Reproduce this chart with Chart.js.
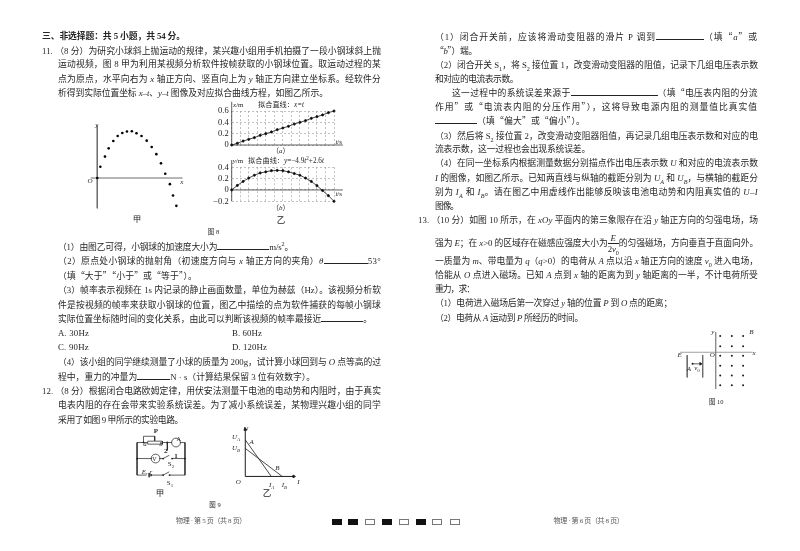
<!DOCTYPE html>
<html>
<head>
<meta charset="utf-8">
<script src="https://cdn.jsdelivr.net/npm/chart.js@4"></script>
<style>
html, body { margin: 0; background: #fff; }
#page { position: relative; width: 800px; height: 551px; overflow: hidden; filter: blur(0.4px); color: #262626;
  font-family: "Liberation Serif", "Noto Sans CJK SC", serif; }
.ln { position: absolute; height: 12px; line-height: 12px; font-size: 8.8px; white-space: nowrap; }
.lb { position: absolute; transform: translate(-50%, -50%); white-space: nowrap; font-size: 7px; line-height: 1; }
.q { font-family: "Noto Sans CJK SC"; }
.blank { display: inline-block; height: 8px; border-bottom: 0.8px solid #222; }
.frac { display: inline-block; vertical-align: middle; text-align: center; line-height: 10px; }
.frac span { display: block; }
.frac span + span { border-top: 0.8px solid #222; }
sub, sup { font-size: 70%; line-height: 0; }
canvas { position: absolute; }
.box { position: absolute; top: 518.5px; width: 8px; height: 4px; border: 0.6px solid #777; }
.box.on { background: #111; border-color: #111; }
</style>
</head>
<body>
<div id="page">
  <canvas id="ball" style="left:84px;top:118px" width="110" height="98"></canvas>
  <canvas id="xt" style="left:205px;top:95px" width="145" height="60"></canvas>
  <canvas id="yt" style="left:205px;top:155px" width="145" height="55"></canvas>
  <canvas id="circuit" style="left:130px;top:429px" width="64" height="55"></canvas>
  <canvas id="ui" style="left:231px;top:420px" width="75" height="70"></canvas>
  <canvas id="field" style="left:673px;top:325px" width="87" height="71"></canvas>
</div>
<script>
// fig 8 left: ball positions (image units)
const ballX = [0, 3.3, 8.3, 12.3, 17.3, 22, 27, 32, 37.3, 42.3, 47.7, 53.3, 58.7, 63.7, 68.7, 73.3, 78.3, 81.7, 85.3];
const ballY = [0, 12.3, 23.3, 32.3, 40.3, 45.7, 49, 50.7, 51, 48.7, 45.7, 40.7, 33.7, 26, 16, 4.7, -6.7, -19, -30.3];

// fig 8 right: fitted x-t and y-t
const times = [0, 0.033, 0.067, 0.1, 0.133, 0.167, 0.2, 0.233, 0.267, 0.3, 0.333, 0.367, 0.4, 0.433, 0.467, 0.5, 0.533, 0.567, 0.6];
const xMetres = [0, 0.03, 0.07, 0.1, 0.13, 0.17, 0.2, 0.23, 0.27, 0.3, 0.33, 0.37, 0.4, 0.43, 0.47, 0.5, 0.53, 0.57, 0.6];
const yMetres = [0, 0.08, 0.15, 0.21, 0.26, 0.3, 0.32, 0.34, 0.345, 0.34, 0.32, 0.29, 0.26, 0.21, 0.15, 0.075, -0.01, -0.1, -0.2];
const timeGrid = [0, 0.05, 0.1, 0.15, 0.2, 0.25, 0.3, 0.35, 0.4, 0.45, 0.5, 0.55, 0.6];
const xtTicks = [0, 0.2, 0.4, 0.6];
const ytTicks = [-0.2, 0, 0.2, 0.4];

// fig 9 right: U-I lines
const lineA = [[0, 42.7], [30, 0]];
const lineB = [[0, 32.7], [42.6, 0]];

// fig 9 left: circuit wires
const wires = [
  [[135, 118], [97, 118], [97, 238], [131, 238]],
  [[135, 113], [187, 113], [187, 124], [135, 124], [135, 113]],
  [[187, 118], [222, 118]],
  [[250, 118], [268, 118], [268, 238], [213, 238]],
  [[120, 118], [120, 95], [160, 95], [160, 112]],
  [[205, 118], [205, 147]],
  [[97, 177], [150, 177]],
  [[176, 177], [190, 177], [212, 165]],
  [[222, 177], [268, 177]],
  [[147, 238], [190, 238], [212, 226]],
  [[140, 230], [140, 246]],
  [[147, 234], [147, 242]]
];
const meters = [[236, 118], [163, 177]];
const junctions = [[97, 177], [268, 177], [205, 118], [120, 118], [190, 238], [213, 238], [190, 177], [222, 177]];

// fig 10: field
const fieldDots = [];
[243, 282, 320].forEach(c => [52, 87, 120, 155, 188, 222].forEach(r => fieldDots.push([c, r])));
const fieldLines = [[[132, 118], [132, 195]], [[184, 118], [184, 195]]];
const yAxis10 = [[228, 38], [228, 235]];
const xAxis10 = [[108, 108], [352, 108]];
const chargeA = [[150, 148], [177, 148]];

const pts = arr => arr.map(p => ({ x: p[0], y: p[1] }));
const INK = '#1c1c1c', AXIS = '#6e6e6e';

function polyline(arr, color, width) {
  return { data: pts(arr), showLine: true, borderColor: color || INK, borderWidth: width || 0.7, pointRadius: 0, clip: false };
}
function axisLine(arr, rotation, width) {
  // arrow tip on the last point
  return { data: pts(arr), showLine: true, borderColor: INK, backgroundColor: INK, borderWidth: width || 0.7,
    pointRadius: [0, 1.6], pointStyle: 'triangle', rotation: rotation, clip: false };
}
function dots(arr, r, color) {
  return { data: pts(arr), backgroundColor: color || INK, borderWidth: 0, pointRadius: r, clip: false };
}

// chart with no visible axes, the canvas is the plot area
function bareChart(id, xMin, xMax, yMin, yMax, reverse, datasets) {
  return new Chart(document.getElementById(id), {
    type: 'scatter',
    data: { datasets: datasets },
    options: {
      responsive: false, animation: false,
      plugins: { legend: { display: false }, tooltip: { enabled: false } },
      scales: {
        x: { display: false, type: 'linear', min: xMin, max: xMax },
        y: { display: false, type: 'linear', min: yMin, max: yMax, reverse: reverse }
      }
    }
  });
}

// gridded plot with dashed grid and real y ticks
function gridChart(id, yValues, yMin, yMax, yTicks, top, bottom, xEnd, yEnd) {
  const series = times.map((t, i) => ({ x: t, y: yValues[i] }));
  return new Chart(document.getElementById(id), {
    type: 'scatter',
    data: { datasets: [
      { data: series, showLine: true, borderColor: INK, borderWidth: 0.8, backgroundColor: '#000', pointRadius: 1.1, clip: false },
      axisLine([[0, 0], [xEnd, 0]], 90),
      axisLine([[0, yMin], [0, yEnd]], 0)
    ] },
    options: {
      responsive: false, animation: false,
      layout: { padding: { top: top, right: 16, left: 0, bottom: 0 } },
      plugins: { legend: { display: false }, tooltip: { enabled: false } },
      scales: {
        x: {
          type: 'linear', min: 0, max: 0.6,
          afterBuildTicks: s => { s.ticks = timeGrid.map(v => ({ value: v })); },
          afterFit: s => { s.height = bottom; },
          ticks: { display: false, autoSkip: false },
          grid: { color: '#999', lineWidth: 0.6, drawTicks: false },
          border: { display: false, dash: [2, 2] }
        },
        y: {
          type: 'linear', min: yMin, max: yMax,
          afterBuildTicks: s => { s.ticks = yTicks.map(v => ({ value: v })); },
          afterFit: s => { s.width = 26.7; },
          ticks: {
            color: '#222', padding: 3, autoSkip: false,
            font: { family: 'Liberation Serif', size: 8.5 },
            callback: v => (v < 0 ? '\u2212' + Math.abs(v).toFixed(1) : (v === 0 ? '0' : v.toFixed(1)))
          },
          grid: { color: '#999', lineWidth: 0.6, drawTicks: false },
          border: { display: false, dash: [2, 2] }
        }
      }
    }
  });
}

bareChart('ball', -10, 100, -37, 61, false, [
  dots(ballX.map((x, i) => [x, ballY[i]]), 1.3, '#000'),
  polyline([[-7, 0], [92, 0]], AXIS, 1),
  polyline([[0, 57], [0, -33]], AXIS, 1)
]);

gridChart('xt', xMetres, 0, 0.6, xtTicks, 16, 10, 0.652, 0.764);
gridChart('yt', yMetres, -0.2, 0.4, ytTicks, 12.3, 8.7, 0.652, 0.53);

bareChart('circuit', 90, 282, 87, 252, true,
  wires.map(w => polyline(w))
    .concat([dots(junctions, 0.9)])
    .concat([{ data: pts(meters), backgroundColor: '#fff', borderColor: INK, borderWidth: 0.7, pointRadius: 4.4, clip: false }])
);

// canvas origin sits at (241.7, 480) of the page
bareChart('ui', -10.7, 64.3, -10, 60, false, [
  polyline(lineA, INK, 0.8),
  polyline(lineB, INK, 0.8),
  axisLine([[0, 0], [56, 0]], 90, 1),
  axisLine([[0, 0], [0, 55]], 0, 1)
]);

bareChart('field', 100, 361, 30, 243, true, [
  dots(fieldDots, 1),
  polyline(fieldLines[0], AXIS, 1),
  polyline(fieldLines[1], AXIS, 1),
  axisLine(chargeA, 90),
  dots([chargeA[0]], 1),
  polyline(yAxis10, AXIS, 1.1),
  polyline(xAxis10, '#888', 0.8)
]);

// page text
const blank = w => `<span class="blank" style="width:${w}px"></span>`;
const textLines = [
  [42, 36, 143, '<b>三、非选择题：共 5 小题，共 54 分。</b>'],
  [42, 51, 339, '11. （8 分）为研究小球斜上抛运动的规律，某兴趣小组用手机拍摄了一段小钢球斜上抛'],
  [58, 64, 323, '运动视频，图 8 甲为利用某视频分析软件按帧获取的小钢球位置。取运动过程的某'],
  [58, 79, 323, '点为原点，水平向右为 <i>x</i> 轴正方向、竖直向上为 <i>y</i> 轴正方向建立坐标系。经软件分'],
  [58, 93, 270, '析得到实际位置坐标 <i>x</i>–<i>t</i>、<i>y</i>–<i>t</i> 图像及对应拟合曲线方程，如图乙所示。'],
  [58, 247, 235, `（1）由图乙可得，小钢球的加速度大小为${blank(52)}m/s<sup>2</sup>。`],
  [58, 261, 323, `（2）原点处小钢球的抛射角（初速度方向与 <i>x</i> 轴正方向的夹角）<i>θ</i>${blank(44)}53°`],
  [58, 276, 139, '（填“大于”“小于”或“等于”）。'],
  [58, 290, 323, '（3）帧率表示视频在 1s 内记录的静止画面数量，单位为赫兹（Hz）。该视频分析软'],
  [58, 305, 323, '件是按视频的帧率来获取小钢球的位置，图乙中描绘的点为软件捕获的每帧小钢球'],
  [58, 319, 314, `实际位置坐标随时间的变化关系，由此可以判断该视频的帧率最接近${blank(42)}。`],
  [58, 333, 31, 'A. 30Hz'],
  [232, 333, 30, 'B. 60Hz'],
  [58, 347, 31, 'C. 90Hz'],
  [232, 347, 35, 'D. 120Hz'],
  [58, 362, 323, '（4）该小组的同学继续测量了小球的质量为 200g，试计算小球回到与 <i>O</i> 点等高的过'],
  [58, 377, 257, `程中，重力的冲量为${blank(33)}N · s（计算结果保留 3 位有效数字）。`],
  [42, 391, 339, '12. （8 分）根据闭合电路欧姆定律，用伏安法测量干电池的电动势和内阻时，由于真实'],
  [58, 405, 323, '电表内阻的存在会带来实验系统误差。为了减小系统误差，某物理兴趣小组的同学'],
  [58, 420, 125, '采用了如图 9 甲所示的实验电路。'],
  [435, 37, 323, `（1）闭合开关前，应该将滑动变阻器的滑片 P 调到${blank(48)}（填“<i>a</i>”或`],
  [435, 51, 42, '“<i>b</i>”）端。'],
  [435, 65, 323, '（2）闭合开关 S<sub>1</sub>，将 S<sub>2</sub> 接位置 1，改变滑动变阻器的阻值，记录下几组电压表示数'],
  [435, 79, 83, '和对应的电流表示数。'],
  [452, 93, 306, `这一过程中的系统误差来源于${blank(87)}（填“电压表内阻的分流`],
  [435, 107, 323, '作用”或“电流表内阻的分压作用”），这将导致电源内阻的测量值比真实值'],
  [435, 121, 150, `${blank(42)}（填“偏大”或“偏小”）。`],
  [435, 136, 323, '（3）然后将 S<sub>2</sub> 接位置 2，改变滑动变阻器阻值，再记录几组电压表示数和对应的电'],
  [435, 149, 155, '流表示数，这一过程也会出现系统误差。'],
  [435, 163, 323, '（4）在同一坐标系内根据测量数据分别描点作出电压表示数 <i>U</i> 和对应的电流表示数'],
  [435, 178, 323, '<i>I</i> 的图像，如图乙所示。已知两直线与纵轴的截距分别为 <i>U<sub>A</sub></i> 和 <i>U<sub>B</sub></i>，与横轴的截距分'],
  [435, 192, 323, '别为 <i>I<sub>A</sub></i> 和 <i>I<sub>B</sub></i>。请在图乙中用虚线作出能够反映该电池电动势和内阻真实值的 <i>U</i>–<i>I</i>'],
  [435, 206, 23, '图像。'],
  [418, 220, 340, '13. （10 分）如图 10 所示，在 <i>xOy</i> 平面内的第三象限存在沿 <i>y</i> 轴正方向的匀强电场，场'],
  [435, 239, 323, '强为 <i>E</i>；在 <i>x</i>&gt;0 的区域存在磁感应强度大小为<span class="frac"><span><i>E</i></span><span>2<i>v</i><sub>0</sub></span></span>的匀强磁场，方向垂直于直面向外。'],
  [435, 261, 323, '一质量为 <i>m</i>、带电量为 <i>q</i>（<i>q</i>&gt;0）的电荷从 <i>A</i> 点以沿 <i>x</i> 轴正方向的速度 <i>v</i><sub>0</sub> 进入电场，'],
  [435, 275, 323, '恰能从 <i>O</i> 点进入磁场。已知 <i>A</i> 点到 <i>x</i> 轴的距离为到 <i>y</i> 轴距离的一半，不计电荷所受'],
  [435, 289, 39, '重力，求：'],
  [435, 303, 237, '（1）电荷进入磁场后第一次穿过 <i>y</i> 轴的位置 <i>P</i> 到 <i>O</i> 点的距离；'],
  [435, 318, 148, '（2）电荷从 <i>A</i> 运动到 <i>P</i> 所经历的时间。']
];
const labels = [
  [96.7, 125, '<i>y</i>'], [90, 181, '<i>O</i>'], [181.7, 181.7, '<i>x</i>'],
  [137, 219, '甲', 8.5], [281, 220, '乙', 8.5], [213.5, 232, '图 8', 6.5],
  [280.7, 151, '（<i>a</i>）'], [280.7, 208, '（<i>b</i>）'],
  [238.3, 105, '<i>x</i>/m'], [281, 105.5, '拟合直线：<i>x=t</i>', 7.2], [338.7, 141.7, '<i>t</i>/s'],
  [238, 161, '<i>y</i>/m'], [286, 161.5, '拟合曲线：<i>y</i>=−4.9<i>t</i><sup>2</sup>+2.6<i>t</i>', 7.2], [338.7, 193.7, '<i>t</i>/s'],
  [156, 431, '<b>P</b>'], [145, 444, '<i>a</i>'], [161, 444, '<i>b</i>'], [178.7, 439.3, 'A', 6], [154.3, 459, 'V', 6],
  [165.7, 450.7, '<b>2</b>'], [176, 456, '<b>1</b>'], [171, 464, 'S<sub>2</sub>'], [147, 472, '<i>E</i>, <i>r</i>'],
  [170, 483, 'S<sub>1</sub>'], [160, 493, '甲', 8.5], [267, 493, '乙', 8.5], [215, 505, '图 9', 6.5],
  [245.7, 429, '<i>U</i>'], [236, 437.3, '<i>U<sub>A</sub></i>'], [236, 448, '<i>U<sub>B</sub></i>'],
  [251.7, 441.7, '<i>A</i>'], [277.3, 468, '<i>B</i>'], [238.3, 482.3, '<i>O</i>'],
  [271.7, 485, '<i>I<sub>A</sub></i>'], [284.3, 485, '<i>I<sub>B</sub></i>'], [298.3, 481.7, '<i>I</i>'],
  [712.7, 331.7, '<i>y</i>'], [751.3, 331.7, '<i>B</i>'], [679.7, 355, '<i>E</i>'], [712.3, 355, '<i>O</i>'],
  [754, 353.3, '<i>x</i>'], [689, 369.3, '<i>A</i>'], [697, 367.7, '<i>v</i><sub>0</sub>'], [716.3, 401.7, '图 10', 6.5]
];
const page = document.getElementById('page');

// one text line stretched to the width it has in the picture
function addLine(x, y, w, html, size, color) {
  const d = document.createElement('div');
  d.className = 'ln';
  d.style.left = x + 'px';
  d.style.top = (y - 6) + 'px';
  if (size) d.style.fontSize = size + 'px';
  if (color) d.style.color = color;
  d.innerHTML = html.replace(/[“”]/g, m => `<span class="q">${m}</span>`);
  page.appendChild(d);
  const natural = d.getBoundingClientRect().width;
  const n = d.textContent.length;
  if (n > 1) d.style.letterSpacing = ((w - natural) / n) + 'px';
}
textLines.forEach(l => addLine(l[0], l[1], l[2], l[3]));
labels.forEach(l => {
  const d = document.createElement('div');
  d.className = 'lb';
  d.style.cssText = `left:${l[0]}px;top:${l[1]}px;font-size:${l[3] || 7}px`;
  d.innerHTML = l[2];
  page.appendChild(d);
});

// footer
addLine(176, 521, 70, '物理 · 第 5 页（共 8 页）', 7, '#555');
addLine(553.5, 521, 70, '物理 · 第 6 页（共 8 页）', 7, '#555');
const boxLefts = [332, 348.3, 365, 382, 398.7, 415.7, 432.3, 450];
const boxFilled = [1, 1, 0, 1, 0, 1, 0, 0];
boxLefts.forEach((x, i) => {
  const d = document.createElement('div');
  d.className = 'box' + (boxFilled[i] ? ' on' : '');
  d.style.left = x + 'px';
  page.appendChild(d);
});
</script>
</body>
</html>
